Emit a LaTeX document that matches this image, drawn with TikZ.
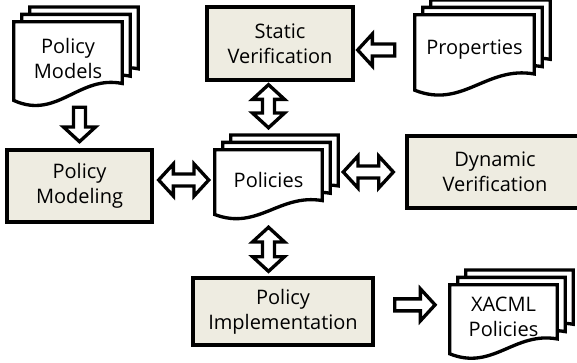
\documentclass[tikz,border=0pt]{standalone}
\usepackage{fontspec}
\setmainfont{Open Sans}
\usetikzlibrary{calc,backgrounds}
\definecolor{boxfill}{RGB}{238,236,225}
\newcommand{\shafthw}{4.5pt}
\newcommand{\headhw}{12pt}
\newcommand{\headlen}{11pt}
\tikzset{
	boxtext/.style={font=\fontsize{15}{18.75}\selectfont,align=center,inner sep=0pt},
	process/.style={boxtext,draw,line width=2.5pt,fill=boxfill,rectangle},
	docs/.style={boxtext},
	docpage/.style={draw,line width=2.5pt,fill=white},
	onearrow/.style={draw,line width=2.5pt,fill=white,
		to path={(\tikztostart) coordinate (ba-a) (\tikztotarget) coordinate (ba-b)
			($(ba-b)!\headlen!(ba-a)$) coordinate (ba-h)
			($(ba-a)!\shafthw!90:(ba-b)$) -- ($(ba-h)!\shafthw!90:(ba-b)$) -- ($(ba-h)!\headhw!90:(ba-b)$) -- (ba-b)
			-- ($(ba-h)!\headhw!-90:(ba-b)$) -- ($(ba-h)!\shafthw!-90:(ba-b)$) -- ($(ba-a)!\shafthw!-90:(ba-b)$) -- cycle}},
	twoarrow/.style={draw,line width=2.5pt,fill=white,
		to path={(\tikztostart) coordinate (ba-a) (\tikztotarget) coordinate (ba-b)
			($(ba-a)!\headlen!(ba-b)$) coordinate (ba-p)
			($(ba-b)!\headlen!(ba-a)$) coordinate (ba-q)
			(ba-a) -- ($(ba-p)!\headhw!90:(ba-b)$) -- ($(ba-p)!\shafthw!90:(ba-b)$) -- ($(ba-q)!\shafthw!90:(ba-b)$) -- ($(ba-q)!\headhw!90:(ba-b)$) -- (ba-b)
			-- ($(ba-q)!\headhw!-90:(ba-b)$) -- ($(ba-q)!\shafthw!-90:(ba-b)$) -- ($(ba-p)!\shafthw!-90:(ba-b)$) -- ($(ba-p)!\headhw!-90:(ba-b)$) -- cycle}},
}
\newcommand{\docstack}[1]{%
	\begin{scope}[on background layer]
		\foreach \k in {2,1,0}
			\filldraw[docpage] let \p1=([shift={(\k*6pt,\k*5.5pt)}]#1.north west), \p2=([shift={(\k*6pt,\k*5.5pt)}]#1.south east) in
				(\x1,\y1) -- (\x2,\y1) -- (\x2,{\y1+0.84*(\y2-\y1)})
				.. controls ({\x1+0.6*(\x2-\x1)},{\y1+0.72*(\y2-\y1)}) and ({\x1+0.4*(\x2-\x1)},{\y1+1.34*(\y2-\y1)}) .. (\x1,{\y1+1.07*(\y2-\y1)}) -- cycle;
	\end{scope}}
\begin{document}
\begin{tikzpicture}[x=0.75pt,y=-0.75pt]
	\useasboundingbox (0,0) rectangle (577,362);
	\node[docs,minimum width=81pt,minimum height=54.75pt] (pmodels) at (68,58.5) {Policy\\Models};
	\node[docs,minimum width=80.25pt,minimum height=45pt] (policies) at (268.5,180) {Policies};
	\node[docs,minimum width=89.25pt,minimum height=52.5pt] (props) at (474.5,50) {Properties};
	\node[docs,minimum width=80.25pt,minimum height=48pt] (xacml) at (503.5,317) {XACML\\Policies};
	\docstack{pmodels}
	\docstack{policies}
	\docstack{props}
	\docstack{xacml}
	\node[process,minimum width=109.5pt,minimum height=54.75pt] (stat) at (280,43.5) {Static\\Verification};
	\node[process,minimum width=108.75pt,minimum height=54pt] (pmod) at (79.5,186) {Policy\\Modeling};
	\node[process,minimum width=132pt,minimum height=54pt] (dyn) at (495,172) {Dynamic\\Verification};
	\node[process,minimum width=135pt,minimum height=50.25pt] (pimp) at (283,311.5) {Policy\\Implementation};
	\draw[onearrow] ([yshift=-9pt]pmod.north |- pmodels.south) to ([yshift=5pt]pmod.north);
	\draw[twoarrow] ([xshift=3.75pt]pmod.east |- policies.west) to ([xshift=-4.5pt]policies.west);
	\draw[twoarrow] ([xshift=15.75pt]policies.east |- dyn.west) to ([xshift=-9pt]dyn.west);
	\draw[twoarrow] ([yshift=-2.25pt]policies.north |- stat.south) to ([yshift=16.5pt]policies.north);
	\draw[twoarrow] ([yshift=-12.75pt]policies.south) to ([yshift=3.75pt]policies.south |- pimp.north);
	\draw[onearrow] ([xshift=-15pt]props.west) to ([xshift=2.25pt]stat.east |- props.west);
	\draw[onearrow] ([xshift=15pt,yshift=5pt]pimp.east) to ([xshift=-11pt,yshift=5pt]xacml.west |- pimp.east);
\end{tikzpicture}
\end{document}
